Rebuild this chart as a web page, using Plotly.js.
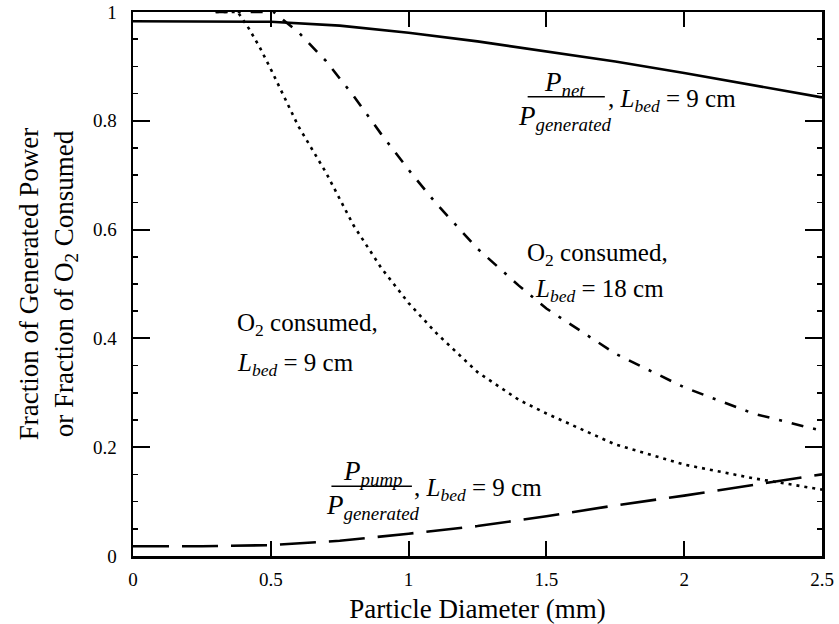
<!DOCTYPE html>
<html>
<head>
<meta charset="utf-8">
<script src="https://cdn.plot.ly/plotly-3.0.1.min.js"></script>
<style>html,body{margin:0;padding:0;background:#fff;}#chart{width:839px;height:624px;}</style>
</head>
<body>
<div id="chart"></div>
<script>
// Particle diameter (mm) and fractions
const netX = [0, 0.25, 0.5, 0.75, 1.0, 1.25, 1.5, 1.75, 2.0, 2.25, 2.5];
const netY = [0.983, 0.983, 0.982, 0.975, 0.962, 0.946, 0.928, 0.909, 0.888, 0.866, 0.843];

const o2_9X = [0.3, 0.38, 0.42, 0.46, 0.5, 0.6, 0.7, 0.8, 0.9, 1.0, 1.1, 1.25, 1.4, 1.5, 1.75, 2.0, 2.25, 2.5];
const o2_9Y = [1, 1, 0.97, 0.935, 0.895, 0.79, 0.705, 0.608, 0.53, 0.465, 0.41, 0.338, 0.287, 0.262, 0.205, 0.168, 0.143, 0.122];

const o2_18X = [0.3, 0.51, 0.6, 0.7, 0.8, 0.9, 1.0, 1.1, 1.25, 1.4, 1.5, 1.75, 2.0, 2.25, 2.5];
const o2_18Y = [1, 1, 0.963, 0.91, 0.846, 0.776, 0.71, 0.648, 0.565, 0.497, 0.455, 0.372, 0.31, 0.262, 0.23];

const pumpX = [0, 0.25, 0.5, 0.75, 1.0, 1.25, 1.5, 1.75, 2.0, 2.25, 2.5];
const pumpY = [0.018, 0.018, 0.02, 0.028, 0.041, 0.055, 0.073, 0.093, 0.111, 0.13, 0.15];

const xTicks = [0, 0.5, 1, 1.5, 2, 2.5];
const yTicks = [0, 0.2, 0.4, 0.6, 0.8, 1];

const serif = "'Liberation Serif', 'Times New Roman', serif";
const lw = 2.6;

const traces = [
  {x: netX, y: netY, mode: 'lines', line: {color: 'black', width: lw, dash: 'solid'}},
  {x: o2_9X, y: o2_9Y, mode: 'lines', line: {color: 'black', width: lw, dash: '3px,5px'}},
  {x: o2_18X, y: o2_18Y, mode: 'lines', line: {color: 'black', width: lw, dash: '12px,10px,3px,10px'}},
  {x: pumpX, y: pumpY, mode: 'lines', line: {color: 'black', width: lw, dash: '36px,13px'}}
];

const annFont = {family: serif, size: 25, color: 'black'};
const fracFont = {family: serif, size: 27, color: 'black'};

const layout = {
  width: 839, height: 624,
  margin: {l: 133, r: 17, t: 12, b: 68},
  paper_bgcolor: 'white', plot_bgcolor: 'white',
  showlegend: false,
  font: {family: serif, color: 'black'},
  xaxis: {
    range: [0, 2.5], tickvals: xTicks, ticktext: xTicks.map(String),
    ticks: 'inside', ticklen: 15, tickwidth: 2, tickcolor: 'black',
    showline: true, linecolor: 'black', linewidth: 2.5, mirror: 'ticks',
    showgrid: false, zeroline: false,
    tickfont: {family: serif, size: 19, color: 'black'},
    ticklabelstandoff: 5,
    title: {text: 'Particle Diameter (mm)', font: {family: serif, size: 27, color: 'black'}, standoff: 10}
  },
  yaxis: {
    range: [0, 1], tickvals: yTicks, ticktext: yTicks.map(String),
    ticks: 'inside', ticklen: 17, tickwidth: 2, tickcolor: 'black',
    minor: {dtick: 0.05, ticks: 'inside', ticklen: 5, tickwidth: 1.5, tickcolor: 'black'},
    showline: true, linecolor: 'black', linewidth: 2.5, mirror: 'ticks',
    showgrid: false, zeroline: false,
    tickfont: {family: serif, size: 19, color: 'black'},
    ticklabelstandoff: 10,
    title: {text: 'Fraction of Generated Power<br>or Fraction of O<sub>2</sub> Consumed', font: {family: serif, size: 27, color: 'black'}, standoff: 12}
  },
  shapes: [
    {type: 'line', xref: 'x', yref: 'y', x0: 1.432, x1: 1.712, y0: 0.844, y1: 0.844, line: {color: 'black', width: 1.5}},
    {type: 'line', xref: 'x', yref: 'y', x0: 0.72, x1: 1.012, y0: 0.128, y1: 0.128, line: {color: 'black', width: 1.5}}
  ],
  annotations: [
    {x: 1.565, y: 0.868, xref: 'x', yref: 'y', text: '<i>P</i><sub><i>net</i></sub>', showarrow: false, xanchor: 'center', yanchor: 'middle', font: fracFont},
    {x: 1.567, y: 0.806, xref: 'x', yref: 'y', text: '<i>P</i><sub><i>generated</i></sub>', showarrow: false, xanchor: 'center', yanchor: 'middle', font: fracFont},
    {x: 1.718, y: 0.838, xref: 'x', yref: 'y', text: ', <i>L</i><sub><i>bed</i></sub> = 9 cm', showarrow: false, xanchor: 'left', yanchor: 'middle', font: annFont},

    {x: 0.87, y: 0.152, xref: 'x', yref: 'y', text: '<i>P</i><sub><i>pump</i></sub>', showarrow: false, xanchor: 'center', yanchor: 'middle', font: fracFont},
    {x: 0.87, y: 0.09, xref: 'x', yref: 'y', text: '<i>P</i><sub><i>generated</i></sub>', showarrow: false, xanchor: 'center', yanchor: 'middle', font: fracFont},
    {x: 1.013, y: 0.122, xref: 'x', yref: 'y', text: ', <i>L</i><sub><i>bed</i></sub> = 9 cm', showarrow: false, xanchor: 'left', yanchor: 'middle', font: annFont},

    {x: 0.37, y: 0.425, xref: 'x', yref: 'y', text: 'O<sub>2</sub> consumed,', showarrow: false, xanchor: 'left', yanchor: 'middle', font: annFont},
    {x: 0.37, y: 0.352, xref: 'x', yref: 'y', text: '<i>L</i><sub><i>bed</i></sub> = 9 cm', showarrow: false, xanchor: 'left', yanchor: 'middle', font: annFont},

    {x: 1.424, y: 0.554, xref: 'x', yref: 'y', text: 'O<sub>2</sub> consumed,', showarrow: false, xanchor: 'left', yanchor: 'middle', font: annFont},
    {x: 1.453, y: 0.488, xref: 'x', yref: 'y', text: '<i>L</i><sub><i>bed</i></sub> = 18 cm', showarrow: false, xanchor: 'left', yanchor: 'middle', font: annFont}
  ]
};

Plotly.newPlot('chart', traces, layout, {displayModeBar: false, staticPlot: true});
</script>
</body>
</html>
